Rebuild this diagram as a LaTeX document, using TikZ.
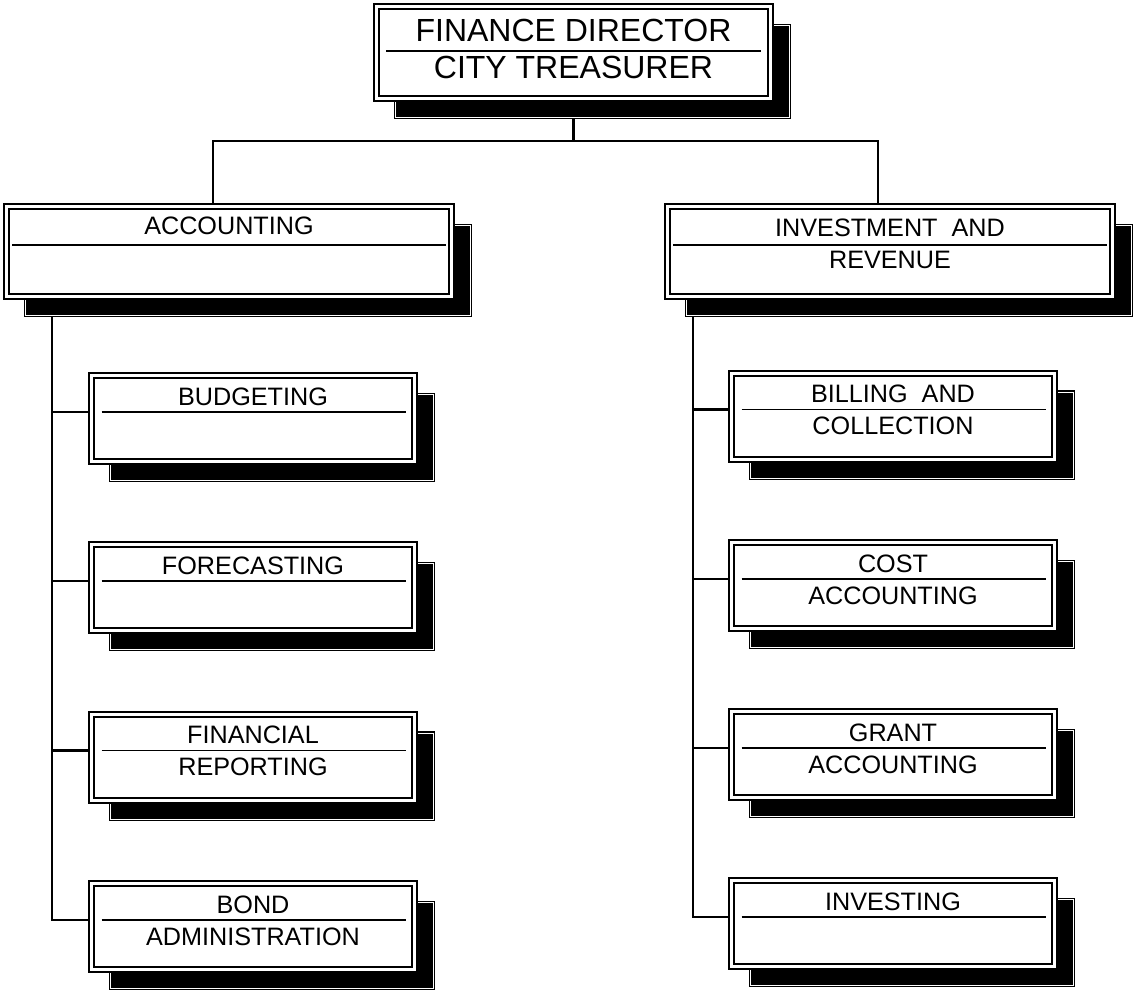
\documentclass[tikz,border=0pt]{standalone}
\usepackage{fontspec}
\setmainfont{Liberation Sans}
\usetikzlibrary{calc, positioning, shadows}
\pgfdeclarelayer{background}
\pgfsetlayers{background,main}
\tikzset{%
	unit box/.style={
		draw=black,
		line width=1pt,
		double=white,
		double distance=1.5pt,
		fill=white,
		inner sep=0pt,
		drop shadow={shadow xshift=9.5pt, shadow yshift=-9.5pt, opacity=1,
			fill=black, draw=black, line width=0.7pt, double=white, double distance=0.5pt}
	},
	unit rule/.style={line width=0.9pt},
	unit text/.style={inner sep=0pt, font=\fontsize{12.6}{15}\selectfont},
	head text/.style={inner sep=0pt, font=\fontsize{16}{19}\selectfont},
	link/.style={line width=1.25pt},
}

\begin{document}
\begin{tikzpicture}[x=0.5pt, y=-0.5pt]
	\useasboundingbox (0,0) rectangle (1136,993);

	% Finance director
	\node[unit box, minimum width=197pt, minimum height=46pt] (director) at (573.5,52.5) {};
	\coordinate (director-rule) at ([yshift=-22.75pt]director.north);
	\draw[unit rule] ([xshift=5.25pt]director-rule -| director.west) -- ([xshift=-5.25pt]director-rule -| director.east);
	\node[head text, above=4.5pt of director-rule] (director-a) {FINANCE DIRECTOR};
	\node[head text, below=2.5pt of director-rule] (director-b) {CITY TREASURER};

	% Accounting
	\node[unit box, minimum width=222.5pt, minimum height=45pt] (accounting) at (229,251.5) {};
	\coordinate (accounting-rule) at ([yshift=-19.75pt]accounting.north);
	\draw[unit rule] ([xshift=3.25pt]accounting-rule -| accounting.west) -- ([xshift=-3.25pt]accounting-rule -| accounting.east);
	\node[unit text, above=5pt of accounting-rule] (accounting-a) {ACCOUNTING};

	% Investment and revenue
	\node[unit box, minimum width=222.5pt, minimum height=45pt] (investment) at (890,251.5) {};
	\coordinate (investment-rule) at ([yshift=-19.75pt]investment.north);
	\draw[unit rule] ([xshift=3.25pt]investment-rule -| investment.west) -- ([xshift=-3.25pt]investment-rule -| investment.east);
	\node[unit text, above=4pt of investment-rule] (investment-a) {INVESTMENT~~AND};
	\node[unit text, below=3pt of investment-rule] (investment-b) {REVENUE};

	% Accounting sections
	\node[unit box, minimum width=161.5pt, minimum height=43pt] (budgeting) at (253,418.5) {};
	\coordinate (budgeting-rule) at ([yshift=-18.75pt]budgeting.north);
	\draw[unit rule] ([xshift=5.5pt]budgeting-rule -| budgeting.west) -- ([xshift=-5pt]budgeting-rule -| budgeting.east);
	\node[unit text, above=3pt of budgeting-rule] (budgeting-a) {BUDGETING};

	\node[unit box, minimum width=161.5pt, minimum height=43pt] (forecasting) at (253,587.5) {};
	\coordinate (forecasting-rule) at ([yshift=-18.75pt]forecasting.north);
	\draw[unit rule] ([xshift=5.5pt]forecasting-rule -| forecasting.west) -- ([xshift=-5pt]forecasting-rule -| forecasting.east);
	\node[unit text, above=3pt of forecasting-rule] (forecasting-a) {FORECASTING};

	\node[unit box, minimum width=161.5pt, minimum height=43pt] (reporting) at (253,757) {};
	\coordinate (reporting-rule) at ([yshift=-18.75pt]reporting.north);
	\draw[unit rule] ([xshift=5.5pt]reporting-rule -| reporting.west) -- ([xshift=-5pt]reporting-rule -| reporting.east);
	\node[unit text, above=3pt of reporting-rule] (reporting-a) {FINANCIAL};
	\node[unit text, below=3.5pt of reporting-rule] (reporting-b) {REPORTING};

	\node[unit box, minimum width=161.5pt, minimum height=43pt] (bond) at (253,926.5) {};
	\coordinate (bond-rule) at ([yshift=-18.75pt]bond.north);
	\draw[unit rule] ([xshift=5.5pt]bond-rule -| bond.west) -- ([xshift=-5pt]bond-rule -| bond.east);
	\node[unit text, above=3pt of bond-rule] (bond-a) {BOND};
	\node[unit text, below=3.5pt of bond-rule] (bond-b) {ADMINISTRATION};

	% Investment and revenue sections
	\node[unit box, minimum width=161.5pt, minimum height=43pt] (billing) at (893,416) {};
	\coordinate (billing-rule) at ([yshift=-18.75pt]billing.north);
	\draw[unit rule] ([xshift=5.5pt]billing-rule -| billing.west) -- ([xshift=-5pt]billing-rule -| billing.east);
	\node[unit text, above=3pt of billing-rule] (billing-a) {BILLING~~AND};
	\node[unit text, below=3.5pt of billing-rule] (billing-b) {COLLECTION};

	\node[unit box, minimum width=161.5pt, minimum height=43pt] (cost) at (893,585.5) {};
	\coordinate (cost-rule) at ([yshift=-18.75pt]cost.north);
	\draw[unit rule] ([xshift=5.5pt]cost-rule -| cost.west) -- ([xshift=-5pt]cost-rule -| cost.east);
	\node[unit text, above=3pt of cost-rule] (cost-a) {COST};
	\node[unit text, below=3.5pt of cost-rule] (cost-b) {ACCOUNTING};

	\node[unit box, minimum width=161.5pt, minimum height=43pt] (grant) at (893,754.5) {};
	\coordinate (grant-rule) at ([yshift=-18.75pt]grant.north);
	\draw[unit rule] ([xshift=5.5pt]grant-rule -| grant.west) -- ([xshift=-5pt]grant-rule -| grant.east);
	\node[unit text, above=3pt of grant-rule] (grant-a) {GRANT};
	\node[unit text, below=3.5pt of grant-rule] (grant-b) {ACCOUNTING};

	\node[unit box, minimum width=161.5pt, minimum height=43pt] (investing) at (893,923.5) {};
	\coordinate (investing-rule) at ([yshift=-18.75pt]investing.north);
	\draw[unit rule] ([xshift=5.5pt]investing-rule -| investing.west) -- ([xshift=-5pt]investing-rule -| investing.east);
	\node[unit text, above=3pt of investing-rule] (investing-a) {INVESTING};

	% Connectors
	\begin{pgfonlayer}{background}
		\coordinate (accounting-in) at ([xshift=-8pt]accounting.north);
		\coordinate (investment-in) at ([xshift=-6pt]investment.north);
		\draw[link] (director.south) -- ++(0,41.5) coordinate (bus);
		\draw[link] (accounting-in) |- (bus) -| (investment-in);

		\coordinate (accounting-out) at ([xshift=23.25pt]accounting.south west);
		\draw[link] (accounting-out) |- (bond-rule -| bond.west);
		\draw[link] (budgeting-rule -| accounting-out) -- (budgeting-rule -| budgeting.west);
		\draw[link] (forecasting-rule -| accounting-out) -- (forecasting-rule -| forecasting.west);
		\draw[link] (reporting-rule -| accounting-out) -- (reporting-rule -| reporting.west);

		\coordinate (investment-out) at ([xshift=13.25pt]investment.south west);
		\draw[link] (investment-out) |- (investing-rule -| investing.west);
		\draw[link] (billing-rule -| investment-out) -- (billing-rule -| billing.west);
		\draw[link] (cost-rule -| investment-out) -- (cost-rule -| cost.west);
		\draw[link] (grant-rule -| investment-out) -- (grant-rule -| grant.west);
	\end{pgfonlayer}
\end{tikzpicture}
\end{document}
